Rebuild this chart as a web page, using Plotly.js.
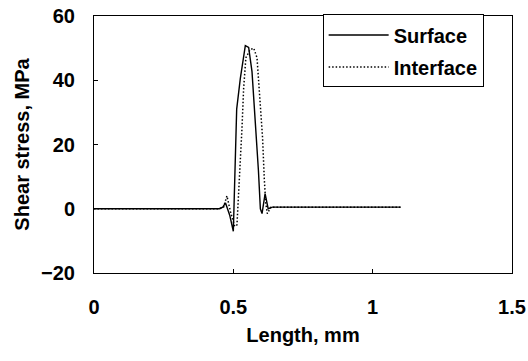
<!DOCTYPE html>
<html>
<head>
<meta charset="utf-8">
<script src="https://cdn.plot.ly/plotly-3.0.1.min.js"></script>
<style>html,body{margin:0;padding:0;background:#fff;}#chart{width:528px;height:361px;}</style>
</head>
<body>
<div id="chart"></div>
<script>
// Surface (solid line)
const surfaceX = [0, 0.1, 0.2, 0.3, 0.4, 0.45, 0.462, 0.472, 0.487, 0.5, 0.512, 0.525, 0.543, 0.555, 0.567, 0.579, 0.59, 0.597, 0.603, 0.614, 0.625, 0.64, 0.7, 0.8, 0.9, 1.0, 1.1];
const surfaceY = [0, 0, 0, 0, 0, 0, 0.5, 1.8, -2, -7, 31, 40.5, 50.8, 50.2, 42.7, 27, 12, 0, -1.5, 4.7, 0, 0.5, 0.5, 0.5, 0.5, 0.5, 0.5];
// Interface (dotted line)
const interfaceX = [0, 0.1, 0.2, 0.3, 0.4, 0.45, 0.465, 0.477, 0.49, 0.505, 0.513, 0.519, 0.525, 0.531, 0.537, 0.545, 0.56, 0.573, 0.585, 0.597, 0.605, 0.611, 0.616, 0.622, 0.635, 0.7, 0.8, 0.9, 1.0, 1.1];
const interfaceY = [0, 0, 0, 0, 0, 0, 0.5, 4, -1, -5.5, -5, 4, 14.6, 25, 37.5, 47, 49.5, 50, 47, 32, 22, 9.4, 2, -1.5, 0.5, 0.5, 0.5, 0.5, 0.5, 0.5];
const seriesNames = ["Surface", "Interface"];
const xTickVals = [0, 0.5, 1, 1.5];
const xTickText = ["0", "0.5", "1", "1.5"];
const yTickVals = [-20, 0, 20, 40, 60];
const yTickText = ["\u221220", "0", "20", "40", "60"];

const FONT = "Liberation Sans, Arial, sans-serif";

const traces = [
  {x: surfaceX, y: surfaceY, name: seriesNames[0], legendgroup: "a", type: "scatter", mode: "lines",
   line: {color: "#000", width: 1.4}},
  {x: interfaceX, y: interfaceY, name: seriesNames[1], legendgroup: "b", type: "scatter", mode: "lines",
   line: {color: "#000", width: 1.5, dash: "1.5px,2px"}}
];

const layout = {
  width: 528, height: 361,
  margin: {l: 94, r: 16, t: 16, b: 88},
  paper_bgcolor: "#fff", plot_bgcolor: "#fff",
  font: {family: FONT, color: "#000", size: 20, weight: "bold"},
  showlegend: true,
  legend: {
    x: 0.547, y: 1.006, xanchor: "left", yanchor: "top",
    bgcolor: "#fff", bordercolor: "#000", borderwidth: 1,
    font: {family: FONT, size: 20, color: "#000", weight: "bold"},
    itemwidth: 60, tracegroupgap: 3
  },
  xaxis: {
    range: [0, 1.5], tickvals: xTickVals, ticktext: xTickText,
    ticks: "inside", ticklen: 4, tickcolor: "#000", tickwidth: 1,
    showline: true, linecolor: "#000", linewidth: 1, mirror: true,
    showgrid: false, zeroline: false, ticklabelstandoff: 16,
    tickfont: {family: FONT, size: 20, weight: "bold"},
    title: {text: "Length, mm", font: {family: FONT, size: 20, weight: "bold"}, standoff: 10}
  },
  yaxis: {
    range: [-20, 60], tickvals: yTickVals, ticktext: yTickText,
    ticks: "inside", ticklen: 4, tickcolor: "#000", tickwidth: 1,
    showline: true, linecolor: "#000", linewidth: 1, mirror: true,
    showgrid: false, zeroline: false, ticklabelstandoff: 14,
    tickfont: {family: FONT, size: 20, weight: "bold"},
    title: {text: "Shear stress, MPa", font: {family: FONT, size: 20, weight: "bold"}, standoff: 6}
  }
};

Plotly.newPlot("chart", traces, layout, {staticPlot: true, displayModeBar: false});
</script>
</body>
</html>
